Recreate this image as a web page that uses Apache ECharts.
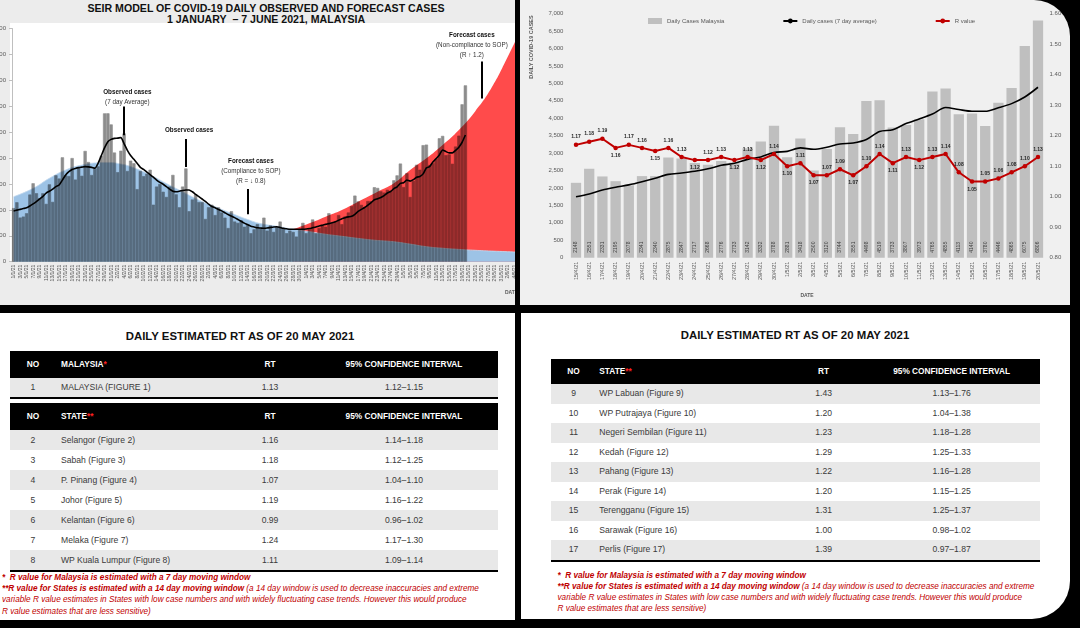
<!DOCTYPE html>
<html><head><meta charset="utf-8">
<script src="https://cdn.jsdelivr.net/npm/echarts@6.0.0/dist/echarts.min.js"></script>
<style>
html,body{margin:0;padding:0;background:#000;width:1080px;height:628px;overflow:hidden;font-family:'Liberation Sans',Arial,sans-serif;}
.panel{position:absolute;overflow:hidden;}
#tl{left:0;top:0;width:515px;height:305px;background:#ececec;}
#tr{left:520px;top:0;width:550px;height:305px;background:#f0f0f0;border-top-right-radius:36px;}
#bl{left:0;top:313px;width:515px;height:307px;background:#fff;}
#br{left:521px;top:313px;width:549px;height:306px;background:#fff;border-bottom-right-radius:38px;}
.abs{position:absolute;white-space:nowrap;}
#seirBase,#seirTop{position:absolute;left:-30px;top:0;width:600px;height:305px;}
#seirTop{mix-blend-mode:multiply;}
#rtChart{position:absolute;left:0;top:0;width:550px;height:305px;}
.ttl{font-weight:bold;color:#111;}
.hdr{background:#000;color:#fff;font-weight:bold;font-size:8.3px;}
.row{color:#3a3a3a;font-size:8.6px;}
.foot{color:#c00000;font-style:italic;font-size:8.2px;line-height:11.2px;}
</style>
</head><body>
<div id="tl" class="panel">
  <div class="abs" style="left:10px;top:23px;width:505px;height:239px;background:#fff;"></div>
  <div class="abs ttl" style="left:0;top:3px;width:532px;text-align:center;font-size:10.6px;line-height:11px;">SEIR MODEL OF COVID-19 DAILY OBSERVED AND FORECAST CASES<br>1 JANUARY&nbsp; – 7 JUNE 2021, MALAYSIA</div>
  <div id="seirBase"></div>
  <div id="seirTop"></div>
</div>
<div id="tr" class="panel"><div id="rtChart"></div></div>
<div id="bl" class="panel"></div>
<div id="br" class="panel"></div>
<script>
// ---------- Top-left: SEIR model chart data ----------
const seirMonthDays = [31, 28, 31, 30, 31, 7]; // 1 Jan .. 7 Jun 2021
const seirObservedEarly = [
  2068, 2295, 1704, 1741, 1870, 2593, 3027, 2643, 2451, 2641, 2232, 2985, 2309, 3337, 3211, 4029, 3339, 3306, 4000, 3170, 3631, 3316, 4275, 3848, 3346, 3585, 3680, 4094, 5725, 5728, 5298,
  4214, 3455, 4284, 4950, 3500, 3900, 3800, 2800, 3500, 3300, 3400, 3550, 2200, 2900, 3000, 2700, 2500, 2900, 3350, 2600, 2100, 2900, 3600, 1950, 2400, 2600, 2300, 2300,
  1650, 2100, 2200, 1800, 2100, 1900, 1700, 1300, 1950, 1550, 1500, 1600, 1350, 1450, 1100, 1250, 1450, 1300, 1700, 1200, 1400, 1150, 1350, 1550, 1300, 1100, 1200, 1150, 970, 1250, 1500,
  1100, 1250, 1630, 1100, 1300, 1400, 1350, 1870, 1500, 1550, 1800, 1450, 1750, 1900
];
const seirAvg7Early = [
  1960, 1990, 2020, 2050, 2080, 2150, 2230, 2320, 2420, 2520,
  2650, 2720, 2800, 2900, 2960, 3150, 3350, 3475, 3560, 3600,
  3630, 3650, 3670, 3660, 3640, 3610, 3800, 4100, 4400, 4630,
  4720, 4760, 4770, 4790, 4550, 4300, 4100, 3950, 3800, 3640,
  3560, 3460, 3360, 3260, 3150, 3060, 2990, 2900, 2800, 2720,
  2700, 2720, 2750, 2770, 2770, 2700, 2600, 2510, 2420, 2330,
  2220, 2130, 2080, 2020, 1960, 1890, 1820, 1760, 1700, 1630,
  1560, 1490, 1430, 1370, 1340, 1310, 1300, 1290, 1300, 1320,
  1340, 1350, 1320, 1290, 1270, 1250, 1250, 1250, 1250, 1250,
  1260, 1280, 1310, 1340, 1380, 1410, 1440, 1470, 1500, 1540,
  1600, 1660, 1700, 1730
];
// model curves: [day index, cases]
const modelCompliance = [[0,2510],[6,2830],[11,3220],[16,3540],[21,3730],[26,3820],[29,3830],[33,3770],[36,3670],[42,3350],[47,3020],[52,2700],[57,2380],[62,2120],[67,1870],[72,1630],[76,1470],[81,1370],[86,1250],[91,1160],[96,1060],[101,980],[106,900],[111,830],[117,770],[122,680],[127,580],[132,520],[137,475],[142,440],[147,410],[152,386],[157,360]];
const modelNonCompliance = [[86,1250],[91,1480],[96,1737],[101,1995],[106,2317],[112,2703],[117,3025],[122,3539],[127,3990],[132,4505],[137,5084],[142,5800],[147,6700],[152,7900],[157,9200]];

// ---------- Top-right: daily cases & R value ----------
const rtDates = ['15/4/21','16/4/21','17/4/21','18/4/21','19/4/21','20/4/21','21/4/21','22/4/21','23/4/21','24/4/21','25/4/21','26/4/21','27/4/21','28/4/21','29/4/21','30/4/21','1/5/21','2/5/21','3/5/21','4/5/21','5/5/21','6/5/21','7/5/21','8/5/21','9/5/21','10/5/21','11/5/21','12/5/21','13/5/21','14/5/21','15/5/21','16/5/21','17/5/21','18/5/21','19/5/21','20/5/21'];
const dailyCases = [2148,2551,2331,2195,2078,2341,2340,2875,2847,2717,2668,2776,2733,3142,3332,3788,2881,3418,2500,3120,3744,3551,4498,4519,3733,3807,3973,4765,4855,4113,4140,3780,4446,4865,6075,6806];
const avg7 = [1750,1830,1940,2020,2090,2180,2280,2390,2430,2480,2550,2650,2710,2820,2890,3020,3050,3150,3110,3170,3260,3290,3390,3620,3670,3850,3980,4120,4310,4250,4200,4200,4300,4420,4610,4890];
const rValue = [1.17,1.18,1.19,1.16,1.17,1.16,1.15,1.16,1.13,1.12,1.12,1.13,1.12,1.13,1.12,1.14,1.10,1.11,1.07,1.07,1.09,1.07,1.10,1.14,1.11,1.13,1.12,1.13,1.14,1.08,1.05,1.05,1.06,1.08,1.10,1.13];

// ---------- Tables ----------
const malaysiaRows = [['1','MALAYSIA (FIGURE 1)','1.13','1.12–1.15']];
const stateRowsA = [
  ['2','Selangor (Figure 2)','1.16','1.14–1.18'],
  ['3','Sabah (Figure 3)','1.18','1.12–1.25'],
  ['4','P. Pinang (Figure 4)','1.07','1.04–1.10'],
  ['5','Johor (Figure 5)','1.19','1.16–1.22'],
  ['6','Kelantan (Figure 6)','0.99','0.96–1.02'],
  ['7','Melaka (Figure 7)','1.24','1.17–1.30'],
  ['8','WP Kuala Lumpur (Figure 8)','1.11','1.09–1.14']
];
const stateRowsB = [
  ['9','WP Labuan (Figure 9)','1.43','1.13–1.76'],
  ['10','WP Putrajaya (Figure 10)','1.20','1.04–1.38'],
  ['11','Negeri Sembilan (Figure 11)','1.23','1.18–1.28'],
  ['12','Kedah (Figure 12)','1.29','1.25–1.33'],
  ['13','Pahang (Figure 13)','1.22','1.16–1.28'],
  ['14','Perak (Figure 14)','1.20','1.15–1.25'],
  ['15','Terengganu (Figure 15)','1.31','1.25–1.37'],
  ['16','Sarawak (Figure 16)','1.00','0.98–1.02'],
  ['17','Perlis (Figure 17)','1.39','0.97–1.87']
];
const tableTitle = 'DAILY ESTIMATED RT AS OF 20 MAY 2021';
const headMalaysia = ['NO','MALAYSIA<span style="color:#ff2020">*</span>','RT','95% CONFIDENCE INTERVAL'];
const headState = ['NO','STATE<span style="color:#ff2020">**</span>','RT','95% CONFIDENCE INTERVAL'];
const footnoteHtml = '<b>*&nbsp; R value for Malaysia is estimated with a 7 day moving window</b><br><b>**R value for States is estimated with a 14 day moving window</b> (a 14 day window is used to decrease inaccuracies and extreme<br>variable R value estimates in States with low case numbers and with widely fluctuating case trends. However this would produce<br>R value estimates that are less sensitive)';

// ================= build =================
const FF = 'Liberation Sans';
const seirDates = [];
seirMonthDays.forEach((n, m) => { for (let d = 1; d <= n; d++) seirDates.push(d + '/' + (m + 1) + '/21'); });
const seirObserved = seirObservedEarly.concat(dailyCases);
const seirAvg7 = seirAvg7Early.concat(avg7);

const seirGrid = {left: 42, right: 44.5, top: 28.5, bottom: 43.3};
const seirBaseChart = echarts.init(document.getElementById('seirBase'));
seirBaseChart.setOption({
  animation: false,
  textStyle: {fontFamily: FF},
  grid: seirGrid,
  xAxis: {type: 'category', data: seirDates, boundaryGap: true,
    axisLine: {lineStyle: {color: '#bfbfbf'}},
    axisTick: {interval: 1, length: 2, lineStyle: {color: '#bfbfbf'}},
    axisLabel: {interval: 1, rotate: 90, fontSize: 5, color: '#595959', margin: 3, fontFamily: FF}},
  yAxis: {type: 'value', min: 0, max: 9000, interval: 1000,
    axisLine: {show: true, lineStyle: {color: '#bfbfbf'}},
    axisTick: {show: true, length: 3, lineStyle: {color: '#bfbfbf'}},
    axisLabel: {fontSize: 6, color: '#595959', margin: 6, fontFamily: FF},
    splitLine: {show: false}},
  graphic: [{type: 'text', left: 535, top: 290, style: {text: 'DATE', fontSize: 5, fontWeight: 'bold', fill: '#595959', fontFamily: FF}}],
  series: [
    {type: 'line', data: modelNonCompliance, smooth: true, symbol: 'none', silent: true,
      lineStyle: {width: 0}, areaStyle: {color: '#ff4b4b', opacity: 1}},
    {type: 'line', data: modelCompliance, smooth: true, symbol: 'none', silent: true,
      lineStyle: {width: 0.8, color: '#c7dbef'}, areaStyle: {color: '#9dc3e6', opacity: 1}}
  ]
});

const seirTopChart = echarts.init(document.getElementById('seirTop'));
const arrows = [
  [{coord: [34, 5985]}, {coord: [34, 4880]}],
  [{coord: [53, 4737]}, {coord: [53, 3650]}],
  [{coord: [72, 2807]}, {coord: [72, 1830]}],
  [{coord: [144, 7722]}, {coord: [144, 6300]}]
];
seirTopChart.setOption({
  animation: false,
  textStyle: {fontFamily: FF},
  grid: seirGrid,
  xAxis: {type: 'category', data: seirDates, show: false},
  yAxis: {type: 'value', min: 0, max: 9000, interval: 1000, show: false},
  series: [
    {type: 'bar', data: seirObserved, barCategoryGap: '0%', silent: true,
      itemStyle: {color: '#8c8c8c', borderColor: '#8c8c8c', borderWidth: 0.6}},
    {type: 'line', data: seirAvg7, symbol: 'none', smooth: 0.2, silent: true, z: 5,
      lineStyle: {color: '#000', width: 1.6},
      markLine: {silent: true, symbol: ['none', 'triangle'], symbolSize: [0, 6], label: {show: false},
        lineStyle: {color: '#000', width: 2, type: 'solid'}, emphasis: {disabled: true}, data: arrows},
      markPoint: {silent: true, symbol: 'rect', symbolSize: 1, itemStyle: {color: 'rgba(0,0,0,0)'},
        label: {show: true, position: 'inside', color: '#222', fontFamily: FF, align: 'center',
          rich: {b: {fontWeight: 'bold', fontSize: 6.3, lineHeight: 10, color: '#111', fontFamily: FF},
                 n: {fontSize: 6.3, lineHeight: 10, color: '#333', fontFamily: FF}}},
        data: [
          {coord: [35, 6332], label: {formatter: '{b|Observed cases}\n{n|(7 day Average)}'}},
          {coord: [54, 5058], label: {formatter: '{b|Observed cases}'}},
          {coord: [73, 3508], label: {formatter: '{b|Forecast cases}\n{n|(Compliance to SOP)}\n{n|(R = ↓ 0.8)}'}},
          {coord: [141, 8334], label: {formatter: '{b|Forecast cases}\n{n|(Non-compliance to SOP)}\n{n|(R ↑ 1.2)}'}}
        ]}}
  ]
});

// ---------- right chart ----------
const rData = rValue.map((v, i) => {
  const prev = i > 0 ? rValue[i - 1] : -Infinity;
  const next = i < rValue.length - 1 ? rValue[i + 1] : Infinity;
  const below = v < prev && v <= next;
  return {value: v, label: {position: below ? 'bottom' : 'top'}};
});
const rtChart = echarts.init(document.getElementById('rtChart'));
rtChart.setOption({
  animation: false,
  textStyle: {fontFamily: FF},
  grid: {left: 49.4, right: 25.4, top: 13.7, bottom: 47.3},
  legend: {left: 123, top: 13, itemGap: 58, itemWidth: 14, itemHeight: 6,
    textStyle: {fontSize: 6, color: '#595959', fontFamily: FF},
    data: [{name: 'Daily Cases Malaysia', icon: 'rect'}, 'Daily cases (7 day average)', 'R value']},
  xAxis: {type: 'category', data: rtDates, axisLine: {show: false}, axisTick: {show: false},
    axisLabel: {rotate: 90, fontSize: 5.5, color: '#595959', margin: 4, interval: 0, fontFamily: FF},
    name: 'DATE', nameLocation: 'middle', nameGap: 35,
    nameTextStyle: {fontSize: 5, fontWeight: 'bold', color: '#595959', fontFamily: FF}},
  yAxis: [
    {type: 'value', min: 0, max: 7000, interval: 500, splitLine: {show: false}, axisLine: {show: false},
      axisLabel: {fontSize: 6, color: '#595959', margin: 6, fontFamily: FF, formatter: v => v.toLocaleString('en-US')}},
    {type: 'value', min: 0.8, max: 1.6, interval: 0.1, splitLine: {show: false}, axisLine: {show: false},
      axisLabel: {fontSize: 6, color: '#595959', margin: 5, fontFamily: FF, formatter: v => v.toFixed(2)}}
  ],
  graphic: [{type: 'text', x: 11, y: 47, rotation: Math.PI / 2,
    style: {text: 'DAILY COVID-19 CASES', fontSize: 5.5, fontWeight: 'bold', fill: '#595959', align: 'center', verticalAlign: 'middle', fontFamily: FF}}],
  series: [
    {name: 'Daily Cases Malaysia', type: 'bar', data: dailyCases, barCategoryGap: '22%',
      itemStyle: {color: '#bfbfbf'},
      label: {show: true, position: 'insideBottom', rotate: 90, align: 'left', verticalAlign: 'middle', distance: 5,
        fontSize: 5, color: '#404040', fontFamily: FF}},
    {name: 'Daily cases (7 day average)', type: 'line', data: avg7, symbol: 'none', smooth: 0.3,
      lineStyle: {color: '#000', width: 1.6}, itemStyle: {color: '#000'}, z: 3},
    {name: 'R value', type: 'line', yAxisIndex: 1, data: rData, symbol: 'circle', symbolSize: 4.5,
      lineStyle: {color: '#c00000', width: 2}, itemStyle: {color: '#c00000'}, z: 4,
      label: {show: true, fontSize: 5, fontWeight: 'bold', color: '#262626', distance: 3, fontFamily: FF,
        formatter: p => p.value.toFixed(2)}}
  ]
});

// ---------- tables ----------
function div(parent, css, html) {
  const d = document.createElement('div');
  d.className = 'abs';
  d.style.cssText += css;
  if (html !== undefined) d.innerHTML = html;
  parent.appendChild(d);
  return d;
}
function row(parent, cols, y, h, cls, bg, cells) {
  div(parent, `left:${cols[0].l}px;top:${y}px;width:${cols[3].l + cols[3].w - cols[0].l}px;height:${h}px;background:${bg};`);
  cells.forEach((c, i) => {
    const d = div(parent, `left:${cols[i].l}px;top:${y}px;width:${cols[i].w}px;height:${h}px;line-height:${h}px;text-align:${cols[i].a};`, c);
    d.classList.add(cls);
    if (cls === 'hdr') d.style.background = 'transparent';
  });
}
const bl = document.getElementById('bl');
const colsA = [{l: 10, w: 46, a: 'center'}, {l: 61, w: 165, a: 'left'}, {l: 230, w: 80, a: 'center'}, {l: 310, w: 188, a: 'center'}];
div(bl, 'left:0;top:17px;width:480px;text-align:center;font-size:11.4px;line-height:13px;', tableTitle).classList.add('ttl');
row(bl, colsA, 37.7, 27.6, 'hdr', '#000', headMalaysia);
malaysiaRows.forEach((r, k) => row(bl, colsA, 65.3 + k * 18.4, 18.4, 'row', '#e8e8e8', r));
div(bl, 'left:10px;top:84px;width:488px;height:2px;background:#000;');
row(bl, colsA, 90.3, 26.7, 'hdr', '#000', headState);
stateRowsA.forEach((r, k) => row(bl, colsA, 117 + k * 20, 20, 'row', k % 2 === 0 ? '#e8e8e8' : '#fff', r));
div(bl, 'left:10px;top:257px;width:488px;height:2px;background:#000;');
div(bl, 'left:2px;top:259px;', footnoteHtml).classList.add('foot');

const br = document.getElementById('br');
const colsB = [{l: 30.4, w: 44.4, a: 'center'}, {l: 78.3, w: 184, a: 'left'}, {l: 262.6, w: 80, a: 'center'}, {l: 342.6, w: 176, a: 'center'}];
div(br, 'left:0;top:15.5px;width:548px;text-align:center;font-size:11.4px;line-height:13px;', tableTitle).classList.add('ttl');
row(br, colsB, 46.3, 24.7, 'hdr', '#000', headState);
stateRowsB.forEach((r, k) => row(br, colsB, 71 + k * 19.55, 19.55, 'row', k % 2 === 0 ? '#e8e8e8' : '#fff', r));
div(br, 'left:30.4px;top:247px;width:488.2px;height:2px;background:#000;');
div(br, 'left:36.5px;top:256.5px;', footnoteHtml).classList.add('foot');
</script>
</body></html>
